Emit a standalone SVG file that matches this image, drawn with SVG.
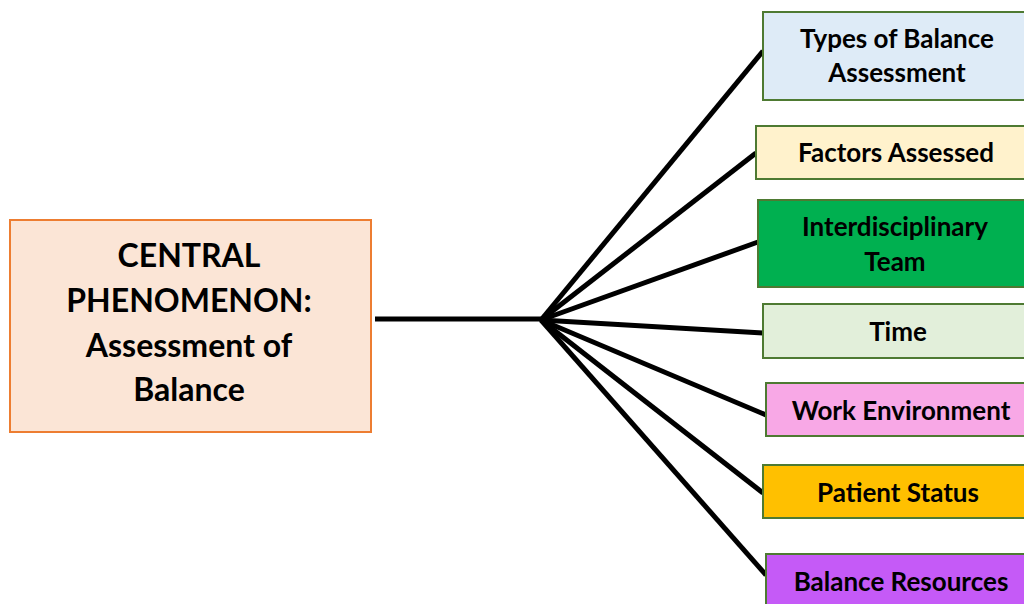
<svg xmlns="http://www.w3.org/2000/svg" width="1024" height="604" viewBox="0 0 1024 604">
<style>
.box{stroke:#4E7A32;stroke-width:2}
.t{font-family:Lato,"Liberation Sans",sans-serif;font-weight:bold;font-size:26px;fill:#000;text-anchor:middle}
.c{font-family:Lato,"Liberation Sans",sans-serif;font-weight:bold;font-size:32px;fill:#000;text-anchor:middle}
.ln{stroke:#000;stroke-width:5;fill:none;stroke-linecap:butt}
</style>
<rect width="1024" height="604" fill="#fff"/>
<g id="connectors">
<line class="ln" x1="375" y1="319" x2="542" y2="319"/>
<line class="ln" x1="541" y1="320" x2="763" y2="51"/>
<line class="ln" x1="541" y1="320" x2="756" y2="153"/>
<line class="ln" x1="541" y1="320" x2="758" y2="242"/>
<line class="ln" x1="541" y1="320" x2="763" y2="333"/>
<line class="ln" x1="541" y1="320" x2="766" y2="415"/>
<line class="ln" x1="541" y1="320" x2="763" y2="493"/>
<line class="ln" x1="541" y1="320" x2="766" y2="575"/>
</g>
<g id="central">
<rect x="10" y="220" width="361" height="212" fill="#FBE5D6" stroke="#ED7D31" stroke-width="2"/>
<text class="c" x="189" y="267">CENTRAL</text>
<text class="c" x="189" y="312">PHENOMENON:</text>
<text class="c" x="189" y="357">Assessment of</text>
<text class="c" x="189" y="401">Balance</text>
</g>
<g id="types">
<rect class="box" x="763" y="12" width="270" height="88" fill="#DEEBF7"/>
<text class="t" x="897" y="48">Types of Balance</text>
<text class="t" x="897" y="82">Assessment</text>
</g>
<g id="factors">
<rect class="box" x="756" y="126" width="277" height="53" fill="#FFF2CC"/>
<text class="t" x="896" y="162">Factors Assessed</text>
</g>
<g id="team">
<rect class="box" x="758" y="200" width="275" height="87" fill="#00B050"/>
<text class="t" x="895" y="236">Interdisciplinary</text>
<text class="t" x="895" y="271">Team</text>
</g>
<g id="time">
<rect class="box" x="763" y="304" width="270" height="54" fill="#E2EFDA"/>
<text class="t" x="898" y="341">Time</text>
</g>
<g id="work">
<rect class="box" x="766" y="383" width="267" height="53" fill="#F8A8E6"/>
<text class="t" x="901" y="420">Work Environment</text>
</g>
<g id="patient">
<rect class="box" x="763" y="465" width="270" height="53" fill="#FFC000"/>
<text class="t" x="898" y="502">Patient Status</text>
</g>
<g id="resources">
<rect class="box" x="766" y="554" width="267" height="60" fill="#C55AF7"/>
<text class="t" x="901" y="591">Balance Resources</text>
</g>
</svg>
